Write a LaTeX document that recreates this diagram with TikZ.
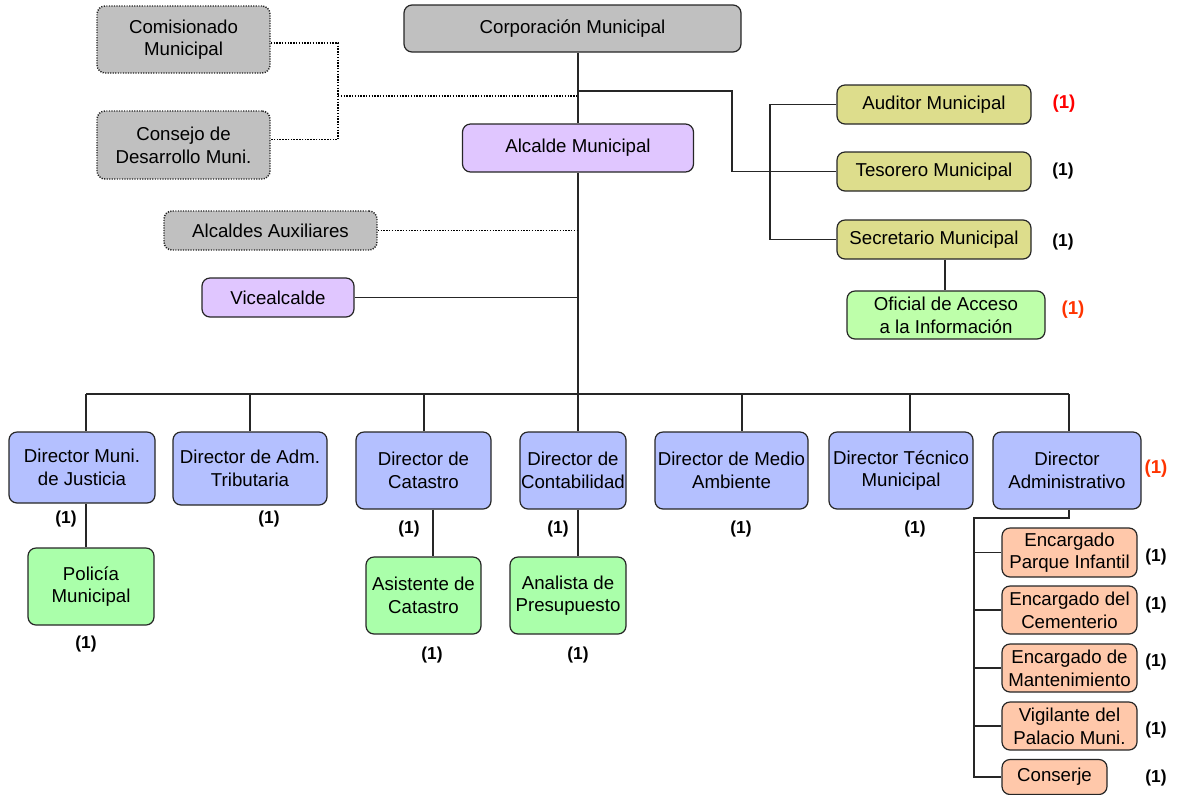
\documentclass[tikz,border=0pt]{standalone}
\usepackage{fontspec}
\setmainfont{Liberation Sans}
\definecolor{cgray}{RGB}{192,192,192}
\definecolor{clav}{RGB}{224,198,255}
\definecolor{coli}{RGB}{221,221,140}
\definecolor{cgrn}{RGB}{170,255,170}
\definecolor{cgrn2}{RGB}{190,255,170}
\definecolor{cblu}{RGB}{180,192,255}
\definecolor{csal}{RGB}{255,200,170}
\definecolor{cred}{RGB}{255,0,0}
\definecolor{cored}{RGB}{255,51,0}
\begin{document}
\begin{tikzpicture}[x=0.75pt,y=-0.75pt,
  box/.style={draw=black!85, line width=0.9pt, rounded corners=6pt, align=center, inner sep=0pt,
    font=\fontsize{14}{17}\selectfont},
  dotbox/.style={box, densely dotted, line width=1.1pt},
  grayf/.style={fill=cgray},
  lav/.style={fill=clav},
  oli/.style={fill=coli},
  grn/.style={fill=cgrn},
  blu/.style={fill=cblu},
  sal/.style={fill=csal},
  conn/.style={line width=0.9pt, draw=black!85},
  dconn/.style={line width=1.1pt, densely dotted},
  cnt/.style={font=\fontsize{13}{15}\selectfont\bfseries, inner sep=0pt},
  rcnt/.style={cnt, font=\fontsize{14}{16}\selectfont\bfseries, text=cred},
  ocnt/.style={cnt, font=\fontsize{14}{16}\selectfont\bfseries, text=cored}
]
\useasboundingbox (0,0) rectangle (1178,794);

% top level
\node[box,grayf,minimum width=252.75pt,minimum height=35.25pt] (corp) at (572.5,28.5) {Corporación Municipal};
\node[dotbox,grayf,minimum width=129.75pt,minimum height=50.25pt] (com) at (183.5,39.5) {Comisionado\\Municipal};
\node[dotbox,grayf,minimum width=129.75pt,minimum height=51pt] (cons) at (183.5,145) {Consejo de\\Desarrollo Muni.};
\node[box,lav,minimum width=173.25pt,minimum height=36pt] (alc) at (578,148) {Alcalde Municipal};
\node[dotbox,grayf,minimum width=159.75pt,minimum height=29.25pt] (aux) at (270.5,230.5) {Alcaldes Auxiliares};
\node[box,lav,minimum width=114pt,minimum height=29.25pt] (vice) at (278,297.5) {Vicealcalde};

\node[box,oli,minimum width=145.5pt,minimum height=29.25pt] (aud) at (934,104.5) {Auditor Municipal};
\node[box,oli,minimum width=145.5pt,minimum height=29.25pt] (tes) at (934,171.5) {Tesorero Municipal};
\node[box,oli,minimum width=145.5pt,minimum height=29.25pt] (sec) at (934,239.5) {Secretario Municipal};
\node[box,fill=cgrn2,minimum width=148.5pt,minimum height=36pt] (ofi) at (946,315) {Oficial de Acceso\\a la Información};

% directors
\node[box,blu,minimum width=109.5pt,minimum height=53.25pt] (d1) at (82,467.5) {Director Muni.\\de Justicia};
\node[box,blu,minimum width=115.5pt,minimum height=54.75pt] (d2) at (250,468.5) {Director de Adm.\\Tributaria};
\node[box,blu,minimum width=101.25pt,minimum height=57.75pt] (d3) at (423.5,470.5) {Director de\\Catastro};
\node[box,blu,minimum width=79.5pt,minimum height=57.75pt] (d4) at (573,470.5) {Director de\\Contabilidad};
\node[box,blu,minimum width=114.75pt,minimum height=57.75pt] (d5) at (731.5,470.5) {Director de Medio\\Ambiente};
\node[box,blu,minimum width=108pt,minimum height=57.75pt] (d6) at (901,470.5) {Director Técnico\\Municipal};
\node[box,blu,minimum width=111pt,minimum height=57.75pt] (d7) at (1067,470.5) {Director\\Administrativo};

\node[box,grn,minimum width=94.5pt,minimum height=57.75pt] (pol) at (91,586.5) {Policía\\Municipal};
\node[box,grn,minimum width=86.25pt,minimum height=57.75pt] (asi) at (423.5,595.5) {Asistente de\\Catastro};
\node[box,grn,minimum width=87pt,minimum height=57.75pt] (ana) at (568,595.5) {Analista de\\Presupuesto};

\node[box,sal,minimum width=101.25pt,minimum height=36.75pt] (e1) at (1069.5,552.5) {Encargado\\Parque Infantil};
\node[box,sal,minimum width=101.25pt,minimum height=36pt] (e2) at (1069.5,610) {Encargado del\\Cementerio};
\node[box,sal,minimum width=101.25pt,minimum height=36pt] (e3) at (1069.5,668) {Encargado de\\Mantenimiento};
\node[box,sal,minimum width=101.25pt,minimum height=36pt] (e4) at (1069.5,726) {Vigilante del\\Palacio Muni.};
\node[box,sal,minimum width=78.75pt,minimum height=26.25pt] (e5) at (1054.5,777) {Conserje};

% coordinates
\coordinate (bus) at (578,394);
\coordinate (p1) at (86,394);
\coordinate (p2) at (250,394);
\coordinate (p3) at (424,394);
\coordinate (p4) at (578,394);
\coordinate (p5) at (742,394);
\coordinate (p6) at (910,394);
\coordinate (p7) at (1069,394);
\coordinate (q3) at (433,520);
\coordinate (j1) at (338,96);
\coordinate (j2) at (578,91);
\coordinate (j3) at (732,91);
\coordinate (j4) at (770,104);
\coordinate (k1) at (1069,518);
\coordinate (k2) at (974,518);
\coordinate (s1) at (945,280);

% connectors
\draw[conn] (corp.south -| alc.north) -- (alc.north);
\draw[conn] (alc.south) -- (bus);
\draw[conn] (p1) -- (p7);
\draw[conn] (p1) -- (p1 |- d1.north);
\draw[conn] (p2) -- (p2 |- d2.north);
\draw[conn] (p3) -- (p3 |- d3.north);
\draw[conn] (p4) -- (p4 |- d4.north);
\draw[conn] (p5) -- (p5 |- d5.north);
\draw[conn] (p6) -- (p6 |- d6.north);
\draw[conn] (p7) -- (p7 |- d7.north);

\draw[conn] (p1 |- d1.south) -- (p1 |- pol.north);
\draw[conn] (q3 |- d3.south) -- (q3 |- asi.north);
\draw[conn] (p4 |- d4.south) -- (p4 |- ana.north);

\draw[dconn] ([yshift=-2.5pt]com.east) -| (j1) |- ([yshift=4pt]cons.east);
\draw[dconn] (j1) -- (j1 -| alc.north);
\draw[dconn] (aux.east) -- (aux.east -| alc.north);
\draw[conn] (vice.east) -- (vice.east -| alc.north);

\draw[conn] (j2) -- (j3) |- (tes.west);
\draw[conn] (aud.west) -| (j4) |- (sec.west);
\draw[conn] (s1 |- sec.south) -- (s1 |- ofi.north);

\draw[conn] (k1 |- d7.south) -- (k1) -- (k2) |- (e5.west);
\draw[conn] (k2 |- e1.west) -- (e1.west);
\draw[conn] (k2 |- e2.west) -- (e2.west);
\draw[conn] (k2 |- e3.west) -- (e3.west);
\draw[conn] (k2 |- e4.west) -- (e4.west);

% counts
\node[rcnt] (c1) at (1064,104) {(1)};
\node[cnt] (c2) at (1063,171) {(1)};
\node[cnt] (c3) at (1063,242) {(1)};
\node[ocnt] (c4) at (1073,310) {(1)};
\node[cnt] (c5) at (66,519) {(1)};
\node[cnt] (c6) at (269,519) {(1)};
\node[cnt] (c7) at (409,529) {(1)};
\node[cnt] (c8) at (558,529) {(1)};
\node[cnt] (c9) at (741,529) {(1)};
\node[cnt] (c10) at (915,529) {(1)};
\node[cnt] (c11) at (86,644) {(1)};
\node[cnt] (c12) at (432,655) {(1)};
\node[cnt] (c13) at (578,655) {(1)};
\node[ocnt] (c14) at (1156,469) {(1)};
\node[cnt] (c15) at (1156,557) {(1)};
\node[cnt] (c16) at (1156,605) {(1)};
\node[cnt] (c17) at (1156,662) {(1)};
\node[cnt] (c18) at (1156,730) {(1)};
\node[cnt] (c19) at (1156,778) {(1)};
\end{tikzpicture}
\end{document}
